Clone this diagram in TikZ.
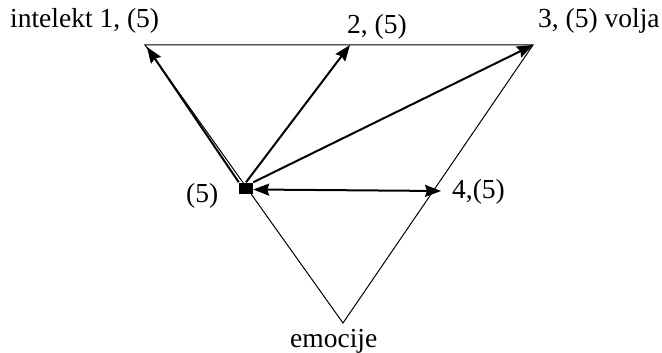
\documentclass[tikz,border=0pt]{standalone}
\usepackage{fontspec}
\setmainfont{Liberation Serif}
\usetikzlibrary{arrows.meta}
\begin{document}
\begin{tikzpicture}[x=1pt, y=-1pt,
    side/.style={line width=1pt},
    arr/.style={line width=2pt, -{Stealth[length=16pt,width=12pt,inset=2pt]}},
    arrb/.style={line width=2pt, {Stealth[length=16pt,width=12pt,inset=2pt]}-{Stealth[length=16pt,width=12pt,inset=2pt]}},
    lab/.style={anchor=base west, inner sep=0pt, font=\fontsize{27.5}{30}\selectfont}]
\useasboundingbox (0,0) rectangle (662,353);
% Triangle corners
\coordinate (tl) at (145,45);
\coordinate (tr) at (533,45);
\coordinate (bot) at (343,323);
\coordinate (mid) at (350,45);
\coordinate (rs) at (441,191);
\draw[side] (tl) -- (tr) -- (bot) -- cycle;

% Centre point and arrows
\node[fill, minimum width=14pt, minimum height=11pt, inner sep=0pt] (a) at (246,188) {};
\draw[arr] (a.north west) -- ([shift={(2,2)}]tl);
\draw[arr] (a.north) -- (mid);
\draw[arr] (a.north east) -- (tr);
\draw[arrb] ([yshift=-1.5]a.east) -- (rs);

% Labels
\node[lab] (intelekt) at (10,28) {intelekt 1, (5)};
\node[lab] (two) at (347,34) {2, (5)};
\node[lab] (volja) at (538,28) {3, (5) volja};
\node[lab] (pet) at (186,202) {(5)};
\node[lab] (four) at (452,198) {4,(5)};
\node[lab] (emocije) at (290,347) {emocije};
\end{tikzpicture}
\end{document}
